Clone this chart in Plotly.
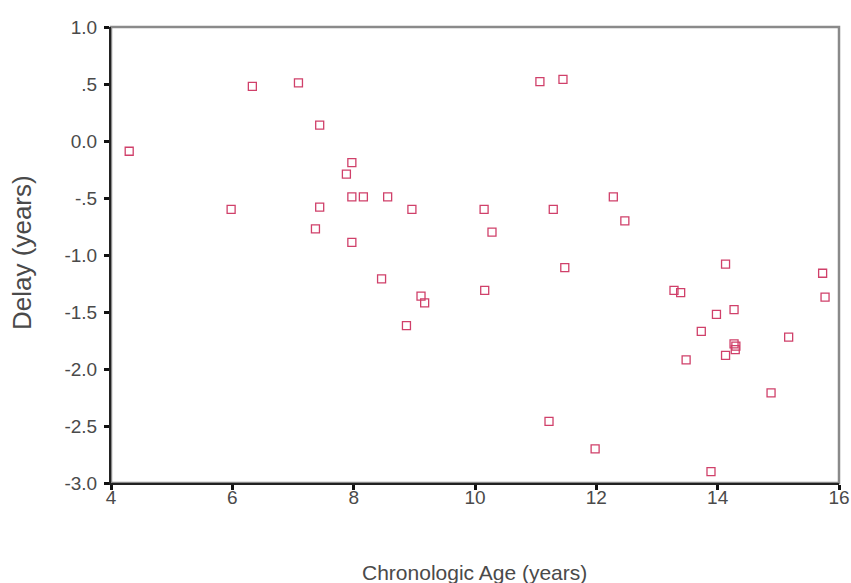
import plotly.graph_objects as go

age = [4.30, 5.98, 6.33, 7.09, 7.44, 7.97, 7.88, 7.97, 8.16, 8.56, 7.44, 8.96,
       7.37, 7.97, 8.46, 9.11, 9.17, 8.87, 10.15, 10.28, 10.16, 11.07, 11.45,
       11.29, 11.48, 11.22, 11.98, 12.28, 12.47, 13.28, 13.39, 14.13, 15.73,
       15.77, 13.98, 14.27, 13.73, 15.17, 14.27, 14.30, 14.29, 14.13, 13.48,
       14.88, 13.89]
delay = [-0.09, -0.60, 0.48, 0.51, 0.14, -0.19, -0.29, -0.49, -0.49, -0.49, -0.58, -0.60,
         -0.77, -0.89, -1.21, -1.36, -1.42, -1.62, -0.60, -0.80, -1.31, 0.52, 0.54,
         -0.60, -1.11, -2.46, -2.70, -0.49, -0.70, -1.31, -1.33, -1.08, -1.16,
         -1.37, -1.52, -1.48, -1.67, -1.72, -1.78, -1.80, -1.83, -1.88, -1.92,
         -2.21, -2.90]

x_ticks = [4, 6, 8, 10, 12, 14, 16]
y_ticks = [1.0, 0.5, 0.0, -0.5, -1.0, -1.5, -2.0, -2.5, -3.0]
y_labels = ["1.0", ".5", "0.0", "-.5", "-1.0", "-1.5", "-2.0", "-2.5", "-3.0"]

fig = go.Figure()
fig.add_trace(go.Scatter(
    x=age, y=delay, mode="markers",
    marker=dict(symbol="square-open", size=8, color="#d0406a",
                line=dict(width=1.3, color="#d0406a")),
    showlegend=False, hoverinfo="x+y"))

font_color = "#4a4a4a"
fig.update_layout(
    width=851, height=583,
    margin=dict(l=111, r=12, t=27, b=100),
    paper_bgcolor="white", plot_bgcolor="white",
    font=dict(family="Liberation Sans, Arial, sans-serif", color=font_color, size=14),
    xaxis=dict(range=[4, 16], tickvals=x_ticks, ticktext=[str(v) for v in x_ticks],
               automargin=False,
               showgrid=False, zeroline=False, showline=True, linecolor="#222",
               linewidth=2, ticks="outside", ticklen=5, tickwidth=3, tickcolor="#111",
               ticklabelstandoff=-9,
               tickfont=dict(size=19, color=font_color)),
    yaxis=dict(range=[-3.0, 1.0], tickvals=y_ticks, ticktext=y_labels,
               automargin=False,
               showgrid=False, zeroline=False, showline=True, linecolor="#222",
               linewidth=2, ticks="outside", ticklen=5, tickwidth=3, tickcolor="#111",
               ticklabelstandoff=3,
               tickfont=dict(size=19, color=font_color)),
    shapes=[dict(type="rect", xref="paper", yref="paper", x0=0, y0=0, x1=1, y1=1,
                 line=dict(color="#8a8a8a", width=2.5), layer="below")],
    annotations=[
        dict(text="Chronologic Age (years)", xref="paper", yref="paper",
             x=0.499, y=-0.197, xanchor="center", yanchor="middle", showarrow=False,
             font=dict(size=21, color=font_color)),
        dict(text="Delay (years)", xref="paper", yref="paper",
             x=-0.122, y=0.505, xanchor="center", yanchor="middle", showarrow=False,
             textangle=-90, font=dict(size=26, color=font_color)),
    ],
)

fig.write_html("out.html", config={"displayModeBar": False},
               post_script="document.body.style.margin='0';")
